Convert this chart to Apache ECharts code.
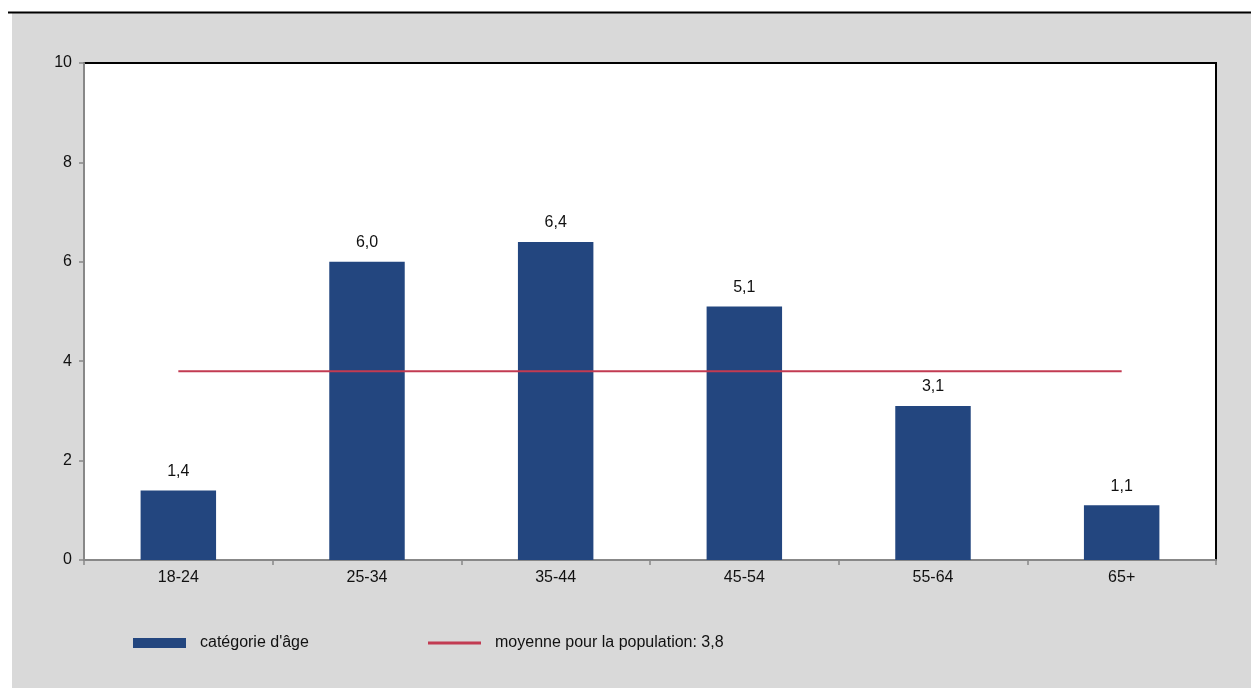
<!DOCTYPE html>
<html>
<head>
<meta charset="utf-8">
<script src="https://cdn.jsdelivr.net/npm/echarts@6/dist/echarts.min.js"></script>
<style>
  html, body { margin: 0; padding: 0; background: #ffffff; }
  #chart { width: 1251px; height: 688px; }
</style>
</head>
<body>
<div id="chart"></div>
<script>
// Age groups and their values
const categories = ['18-24', '25-34', '35-44', '45-54', '55-64', '65+'];
const ageValues = [1.4, 6.0, 6.4, 5.1, 3.1, 1.1];
const populationMean = 3.8;
const meanValues = categories.map(() => populationMean);
const seriesNames = ["catégorie d'âge", 'moyenne pour la population: 3,8'];

const fmt = v => v.toFixed(1).replace('.', ',');
const FONT = '"Liberation Sans", Arial, sans-serif';
const FONT_SIZE = 16;
const TEXT_COLOR = '#111111';
const BAR_COLOR = '#23467F';
const MEAN_COLOR = '#C23B52';
const AXIS_COLOR = '#888888';

const chart = echarts.init(document.getElementById('chart'), null, { renderer: 'canvas' });

chart.setOption({
  backgroundColor: '#ffffff',
  animation: false,
  textStyle: { fontFamily: FONT },
  graphic: [
    {
      type: 'rect', z: -10, silent: true,
      shape: { x: 12, y: 13, width: 1251 - 12, height: 688 - 13 },
      style: { fill: '#D9D9D9' }
    },
    {
      type: 'line', z: -9, silent: true,
      shape: { x1: 8, y1: 12.5, x2: 1251, y2: 12.5 },
      style: { stroke: '#000000', lineWidth: 2 }
    }
  ],
  grid: {
    left: 84, right: 35, top: 63, bottom: 128,
    show: true,
    backgroundColor: '#ffffff',
    borderColor: '#000000',
    borderWidth: 2
  },
  legend: [
    {
      data: [{ name: seriesNames[0], icon: 'rect' }],
      left: 128, top: 630,
      itemWidth: 53, itemHeight: 10,
      selectedMode: false,
      textStyle: { fontSize: FONT_SIZE, color: TEXT_COLOR, fontFamily: FONT, padding: [0, 0, 0, 9] }
    },
    {
      data: [{ name: seriesNames[1], icon: 'rect', itemStyle: { color: MEAN_COLOR } }],
      left: 423, top: 630,
      itemWidth: 53, itemHeight: 3,
      selectedMode: false,
      textStyle: { fontSize: FONT_SIZE, color: TEXT_COLOR, fontFamily: FONT, padding: [0, 0, 0, 9] }
    }
  ],
  xAxis: {
    type: 'category',
    data: categories,
    boundaryGap: true,
    axisLine: { show: true, lineStyle: { color: AXIS_COLOR, width: 2 } },
    axisTick: { show: true, length: 5, lineStyle: { color: AXIS_COLOR, width: 1.5 } },
    axisLabel: { margin: 10, fontSize: FONT_SIZE, color: TEXT_COLOR, fontFamily: FONT },
    splitLine: { show: false }
  },
  yAxis: {
    type: 'value',
    min: 0, max: 10, interval: 2,
    axisLine: { show: true, lineStyle: { color: AXIS_COLOR, width: 2 } },
    axisTick: { show: true, length: 5, lineStyle: { color: AXIS_COLOR, width: 1.5 } },
    axisLabel: { margin: 12, fontSize: FONT_SIZE, color: TEXT_COLOR, fontFamily: FONT },
    splitLine: { show: false }
  },
  series: [
    {
      name: seriesNames[0],
      type: 'bar',
      data: ageValues,
      barWidth: '40%',
      itemStyle: { color: BAR_COLOR },
      label: {
        show: true, position: 'top', distance: 11,
        fontSize: FONT_SIZE, color: TEXT_COLOR, fontFamily: FONT,
        formatter: p => fmt(p.value)
      },
      z: 2
    },
    {
      name: seriesNames[1],
      type: 'line',
      data: meanValues,
      symbol: 'none',
      lineStyle: { color: MEAN_COLOR, width: 2 },
      itemStyle: { color: MEAN_COLOR },
      z: 3
    }
  ]
});
</script>
</body>
</html>
